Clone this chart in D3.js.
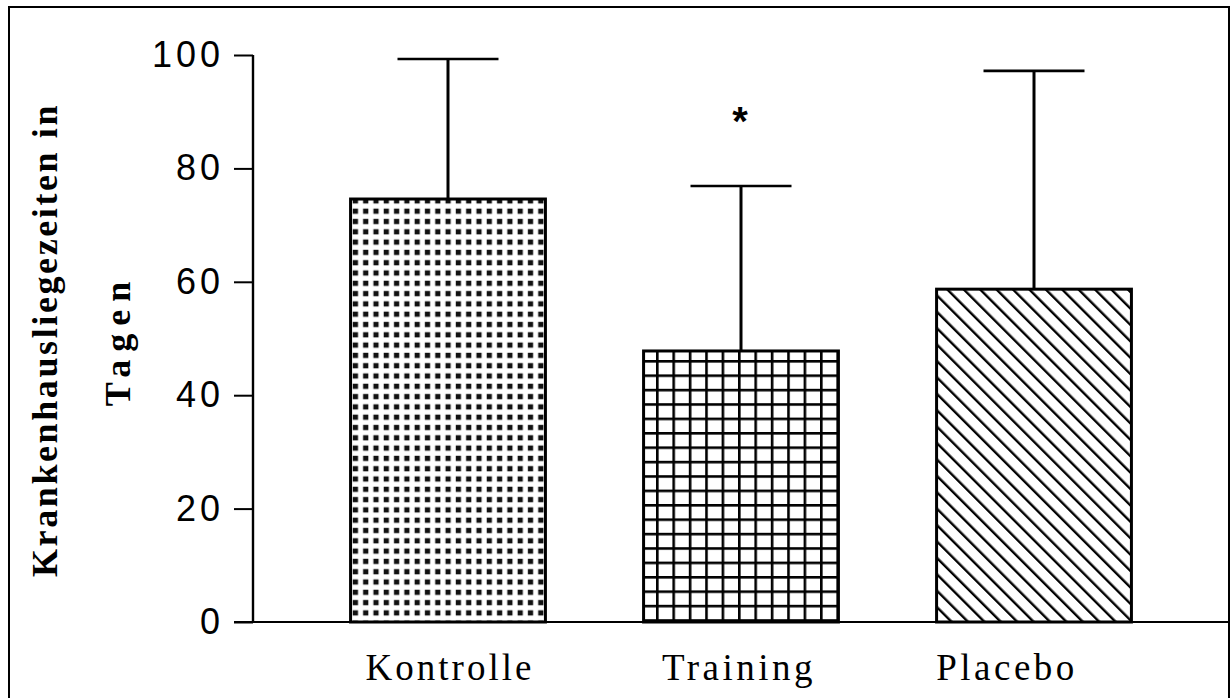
<!DOCTYPE html>
<html>
<head>
<meta charset="utf-8">
<script src="https://cdn.jsdelivr.net/npm/d3@7"></script>
<style>
  html, body { margin: 0; padding: 0; background: #fff; }
  svg { display: block; }
</style>
</head>
<body>
<svg id="chart" width="1230" height="698"></svg>
<script>
// Hospital stay (days) per group: mean and upper error (mean + SD)
const categories = ["Kontrolle", "Training", "Placebo"];
const means = [74.6, 47.8, 58.7];
const upper = [99.3, 76.9, 97.2];
const significant = [false, true, false];
const yTicks = [0, 20, 40, 60, 80, 100];
const yTitle = ["Krankenhausliegezeiten in", "Tagen"];

// label typesetting per category (horizontal shift, letter spacing)
const labelStyle = {
  "Kontrolle": { dx: 2, ls: 3 },
  "Training": { dx: -2, ls: 3.5 },
  "Placebo": { dx: -27, ls: 3.5 }
};

const svg = d3.select("#chart");

// outer frame
svg.append("rect")
  .attr("x", 9).attr("y", 7)
  .attr("width", 1220).attr("height", 700)
  .attr("fill", "none").attr("stroke", "#000").attr("stroke-width", 2);

const x = d3.scaleBand()
  .domain(categories)
  .range([253, 1229])
  .paddingInner(0.335)
  .paddingOuter(0.333);

const y = d3.scaleLinear().domain([0, 100]).range([622, 55]);

// fill patterns
const defs = svg.append("defs");

const dots = defs.append("pattern")
  .attr("id", "dots").attr("patternUnits", "userSpaceOnUse")
  .attr("width", 10.3).attr("height", 10.3);
dots.append("rect").attr("width", 10.3).attr("height", 10.3).attr("fill", "#fff");
dots.append("rect").attr("x", 2.6).attr("y", 2.6).attr("width", 5.2).attr("height", 5.2).attr("fill", "#111");

const grid = defs.append("pattern")
  .attr("id", "grid").attr("patternUnits", "userSpaceOnUse")
  .attr("width", 16.4).attr("height", 14.4);
grid.append("rect").attr("width", 16.4).attr("height", 14.4).attr("fill", "#fff");
grid.append("line").attr("x1", 1.3).attr("x2", 1.3).attr("y1", 0).attr("y2", 14.4)
  .attr("stroke", "#000").attr("stroke-width", 2.6);
grid.append("line").attr("x1", 0).attr("x2", 16.4).attr("y1", 1.3).attr("y2", 1.3)
  .attr("stroke", "#000").attr("stroke-width", 2.6);

const hatch = defs.append("pattern")
  .attr("id", "hatch").attr("patternUnits", "userSpaceOnUse")
  .attr("width", 11.6).attr("height", 11.6)
  .attr("patternTransform", "rotate(-45)");
hatch.append("rect").attr("width", 11.6).attr("height", 11.6).attr("fill", "#fff");
hatch.append("line").attr("x1", 1.2).attr("x2", 1.2).attr("y1", 0).attr("y2", 11.6)
  .attr("stroke", "#000").attr("stroke-width", 2.4);

const fills = ["url(#dots)", "url(#grid)", "url(#hatch)"];

// error bars (behind bars)
const capW = 101;
const err = svg.append("g").attr("stroke", "#000");
categories.forEach((c, i) => {
  const cx = x(c) + x.bandwidth() / 2;
  err.append("line")
    .attr("x1", cx).attr("x2", cx)
    .attr("y1", y(means[i])).attr("y2", y(upper[i]))
    .attr("stroke-width", 3);
  err.append("line")
    .attr("x1", cx - capW / 2).attr("x2", cx + capW / 2)
    .attr("y1", y(upper[i])).attr("y2", y(upper[i]))
    .attr("stroke-width", 2.6);
});

// bars
svg.append("g").selectAll("rect")
  .data(categories)
  .join("rect")
  .attr("x", d => x(d))
  .attr("y", (d, i) => y(means[i]))
  .attr("width", x.bandwidth())
  .attr("height", (d, i) => y(0) - y(means[i]))
  .attr("fill", (d, i) => fills[i])
  .attr("stroke", "#000")
  .attr("stroke-width", 3);

// significance marker
svg.append("g").selectAll("text")
  .data(categories.filter((c, i) => significant[i]))
  .join("text")
  .attr("x", d => x(d) + x.bandwidth() / 2 - 1)
  .attr("y", 135)
  .attr("text-anchor", "middle")
  .attr("font-family", "Liberation Sans, Arial, sans-serif")
  .attr("font-weight", "bold")
  .attr("font-size", 40)
  .text("*");

// x axis line
svg.append("line")
  .attr("x1", 234).attr("x2", 1229)
  .attr("y1", y(0)).attr("y2", y(0))
  .attr("stroke", "#000").attr("stroke-width", 2);

// y axis
const yAxis = svg.append("g")
  .attr("transform", "translate(253,0)")
  .call(d3.axisLeft(y).tickValues(yTicks).tickSize(19).tickPadding(10).tickFormat(d3.format("d")));
yAxis.select(".domain").attr("stroke", "#000").attr("stroke-width", 2.4).attr("d", `M0,${y(100)}V${y(0)}`);
yAxis.selectAll(".tick line").attr("stroke", "#000").attr("stroke-width", 2);
yAxis.selectAll(".tick text")
  .attr("font-family", "Liberation Sans, Arial, sans-serif")
  .attr("font-size", 36)
  .attr("letter-spacing", 4)
  .attr("fill", "#000");

// category labels
svg.append("g").selectAll("text")
  .data(categories)
  .join("text")
  .attr("x", d => x(d) + x.bandwidth() / 2 + labelStyle[d].dx)
  .attr("y", 680)
  .attr("text-anchor", "middle")
  .attr("font-family", "Liberation Serif, Times New Roman, serif")
  .attr("font-size", 37)
  .attr("letter-spacing", d => labelStyle[d].ls)
  .text(d => d);

// y title
const yt = svg.append("text")
  .attr("transform", "translate(0,340) rotate(-90)")
  .attr("text-anchor", "middle")
  .attr("font-family", "Liberation Serif, Times New Roman, serif")
  .attr("font-weight", "bold")
  .attr("font-size", 36);
yt.append("tspan").attr("x", 0).attr("y", 57).attr("letter-spacing", 2.6).text(yTitle[0]);
yt.append("tspan").attr("x", 0).attr("y", 130).attr("letter-spacing", 8).text(yTitle[1]);
</script>
</body>
</html>
